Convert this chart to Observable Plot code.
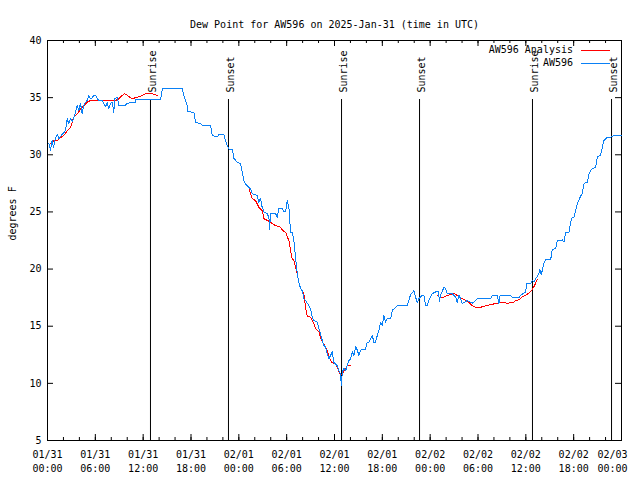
<!DOCTYPE html>
<html><head><meta charset="utf-8">
<script src="https://cdn.jsdelivr.net/npm/d3@7"></script>
<script src="https://cdn.jsdelivr.net/npm/@observablehq/plot@0.6"></script>
<style>body{margin:0;background:#fff} svg{display:block}</style>
</head><body><div id="chart"></div>
<script>
const titleText = "Dew Point for AW596 on 2025-Jan-31 (time in UTC)";
const yLabelText = "degrees F";
const startTime = "2025-01-31T00:00Z";
const endTime = "2025-02-03T00:00Z";
const yTicks = [5, 10, 15, 20, 25, 30, 35, 40];
const seriesNames = ["AW596 Analysis", "AW596"];
const seriesColors = ["#ff0000", "#0a80f5"];
const sunTimes = ["2025-01-31T12:55Z", "2025-01-31T22:42Z", "2025-02-01T12:53Z", "2025-02-01T22:40Z", "2025-02-02T12:50Z", "2025-02-02T22:45Z"];
const sunLabels = ["Sunrise", "Sunset", "Sunrise", "Sunset", "Sunrise", "Sunset"];

// [hours since start, dew point F]
const aw596 = [
[0.16,31.0],[0.38,30.4],[0.59,31.25],[0.75,30.6],[0.94,31.3],[1.22,31.8],[1.44,31.4],[1.84,31.8],[2.26,32.1],[2.47,33.15],
[2.67,32.7],[2.89,33.2],[3.14,32.9],[3.51,33.7],[3.73,34.3],[3.93,33.9],[4.14,34.5],[4.35,33.6],[4.55,34.3],[4.77,34.6],
[4.98,34.75],[5.18,35.2],[5.39,34.9],[5.61,35.0],[5.81,35.2],[6.02,35.2],[6.24,34.9],[6.44,34.75],[6.86,34.75],[7.06,34.5],
[7.28,34.2],[7.49,34.6],[7.69,34.0],[7.9,34.5],[8.12,34.6],[8.32,33.7],[8.41,34.9],[8.75,35.0],[8.95,34.3],[9.79,34.3],
[9.91,34.5],[11.04,34.6],[11.1,34.85],[14.18,34.85],[14.43,35.8],[16.9,35.8],[17.1,35.2],[17.32,34.75],[17.53,34.3],[17.6,33.8],
[18.36,33.7],[18.57,32.85],[19.2,32.7],[19.41,32.6],[20.45,32.6],[20.67,31.7],[21.29,31.55],[21.49,31.75],[22.12,31.75],[22.33,31.25],
[22.55,30.8],[22.75,30.5],[23.17,30.5],[23.38,29.7],[23.8,29.35],[24.22,29.2],[24.43,28.5],[24.63,27.75],[24.84,27.45],[25.05,27.3],
[25.47,27.0],[25.68,26.6],[26.31,26.45],[26.51,25.85],[26.73,26.2],[26.86,25.55],[26.95,25.4],[27.16,25.0],[27.59,24.85],[27.79,24.4],
[27.84,23.5],[28.0,24.85],[28.6,24.85],[28.83,24.55],[29.02,25.3],[29.45,25.3],[29.65,25.0],[29.86,25.0],[30.07,26.0],[30.28,25.4],
[30.49,23.2],[30.7,23.2],[30.9,22.5],[31.12,21.0],[31.33,19.6],[31.53,18.85],[31.74,18.3],[31.96,18.1],[32.16,17.4],[32.37,17.25],
[32.79,16.8],[33.0,16.5],[33.21,15.8],[33.41,15.5],[33.84,15.35],[34.04,14.8],[34.25,14.3],[34.47,13.75],[34.67,13.3],[34.88,13.2],
[35.09,12.6],[35.29,12.15],[35.51,12.45],[35.72,12.75],[35.92,11.85],[36.14,11.7],[36.35,11.55],[36.55,11.1],[36.76,10.8],[36.85,9.8],
[36.98,11.0],[37.18,11.3],[37.39,11.1],[37.6,11.55],[37.8,12.0],[38.02,12.15],[38.23,12.75],[38.43,12.45],[38.65,13.2],[38.86,12.9],
[39.06,12.45],[39.27,12.9],[39.49,13.0],[39.9,13.0],[40.11,13.6],[40.31,13.6],[40.53,13.9],[40.74,14.2],[40.94,13.6],[41.15,13.6],
[41.37,14.2],[41.57,14.6],[41.78,15.35],[41.99,15.1],[42.2,15.95],[42.41,15.35],[42.62,15.65],[43.04,15.65],[43.25,16.4],[43.45,16.5],
[43.88,16.8],[45.13,16.8],[45.33,17.25],[45.55,17.8],[45.96,18.1],[46.17,17.55],[46.38,17.1],[46.59,17.4],[46.8,17.55],[47.01,17.7],
[47.21,17.7],[47.42,16.8],[47.64,16.8],[47.84,17.3],[48.26,17.85],[48.68,18.0],[49.1,18.0],[49.12,17.1],[49.31,17.7],[49.72,18.4],
[49.94,18.3],[50.15,17.85],[50.78,17.85],[51.19,17.55],[51.4,17.1],[51.61,17.7],[51.82,17.4],[52.03,17.0],[52.66,17.25],[53.07,17.1],
[53.28,17.0],[53.7,17.25],[53.91,17.4],[55.58,17.4],[55.8,17.7],[56.42,17.7],[56.62,17.0],[56.77,17.7],[58.09,17.7],[58.3,17.5],
[59.13,17.5],[59.35,17.7],[59.97,18.0],[60.1,18.7],[60.6,18.7],[60.81,19.0],[61.01,18.9],[61.64,19.6],[61.76,20.0],[61.92,19.5],
[62.07,19.9],[62.27,20.5],[62.49,20.8],[63.11,20.8],[63.32,21.7],[63.74,21.8],[63.95,22.5],[64.58,22.55],[64.78,22.35],[64.99,23.2],
[65.41,23.2],[65.62,24.1],[65.83,24.55],[66.06,24.55],[66.24,25.1],[66.45,25.7],[66.66,26.0],[66.87,26.4],[67.08,26.6],[67.28,27.45],
[67.49,27.6],[67.74,27.6],[67.91,28.3],[68.12,28.6],[68.33,28.8],[68.75,28.9],[68.96,29.8],[69.37,29.95],[69.59,30.65],[69.79,31.25],
[70.21,31.55],[70.63,31.55],[71.05,31.7],[72.0,31.7]
];

// [hours since start, dew point F]; null marks a gap in the analysis
const aw596Analysis = [
[0.38,30.95],[0.79,31.25],[1.22,31.25],[1.63,31.5],[2.05,31.7],[2.47,32.1],[2.89,32.4],[3.3,33.3],[3.51,33.45],[3.93,33.75],
[4.14,34.0],[4.55,34.3],[4.98,34.6],[5.39,34.75],[8.53,34.75],[8.95,34.9],[9.37,35.2],[9.7,35.35],[10.2,35.1],[10.63,34.9],
[11.04,35.0],[11.67,35.1],[12.08,35.3],[12.71,35.4],[13.14,35.35],[13.76,35.2],
[19.0,null],
[24.84,27.45],[25.05,27.3],[25.22,27.2],[25.47,26.6],[25.68,26.15],[26.09,26.0],[26.31,25.7],[26.51,25.4],[26.95,25.1],[27.16,24.4],
[27.59,24.25],[28.0,24.1],[28.22,23.95],[28.63,23.8],[29.26,23.65],[29.47,23.4],[29.88,23.2],[30.09,22.8],[30.28,22.5],[30.49,21.6],
[30.7,20.9],[30.9,20.75],[31.12,20.2],[31.33,19.6],[31.53,18.85],[31.74,18.3],[32.16,17.85],[32.37,16.65],[32.58,15.9],[33.0,15.8],
[33.21,15.5],[33.41,15.2],[33.63,14.8],[34.04,14.5],[34.25,14.05],[34.47,13.6],[34.88,13.2],[35.09,12.9],[35.29,12.45],[35.51,12.0],
[35.72,11.8],[36.14,11.7],[36.35,11.4],[36.76,10.7],[36.98,10.85],[37.39,11.3],[37.6,11.55],[38.02,11.55],
[43.0,null],
[48.93,17.7],[49.1,17.55],[49.72,17.55],[50.15,17.7],[50.98,17.85],[51.4,17.7],[51.61,17.55],[52.03,17.4],[52.45,17.25],[52.86,17.1],
[53.28,16.8],[53.7,16.65],[53.91,16.6],[54.32,16.65],[54.74,16.75],[55.58,16.9],[56.42,17.0],[56.62,17.1],[57.25,17.1],[57.67,17.0],
[58.09,17.05],[58.5,17.1],[58.72,17.25],[59.13,17.3],[59.55,17.55],[59.97,17.7],[60.38,17.9],[60.81,18.2],[61.01,18.45],[61.22,18.75],
[61.43,19.1]
];

const t0 = new Date(startTime), t1 = new Date(endTime);
const toDate = h => new Date(+t0 + h * 3600e3);
const obs = aw596.map(([h, v]) => ({t: toDate(h), v}));
const ana = aw596Analysis.map(([h, v]) => ({t: toDate(h), v}));
const sun = sunTimes.map((s, i) => ({t: new Date(s), label: sunLabels[i]}));
const xMajor = d3.utcHour.every(6).range(t0, new Date(+t1 + 1));
const xMinor = d3.utcHour.every(2).range(t0, new Date(+t1 + 1));
const fmt = d3.utcFormat("%m/%d\n%H:%M");

const W = 640, H = 480, mL = 47, mR = 19, mT = 40, mB = 40;
const FH = H - mT - mB, FW = W - mL - mR;

const legend = (index, scales, values, dims) => {
  const g = d3.create("svg:g");
  const right = dims.width - dims.marginRight;
  seriesNames.forEach((name, i) => {
    const y = dims.marginTop + 10 + i * 13;
    g.append("text").attr("x", right - 48).attr("y", y).attr("dy", "0.32em")
      .attr("text-anchor", "end").attr("fill", "black").text(name);
    g.append("line").attr("x1", right - 40).attr("x2", right - 11)
      .attr("y1", y + 0.5).attr("y2", y + 0.5).attr("stroke", seriesColors[i])
      .attr("shape-rendering", "crispEdges");
  });
  return g.node();
};

const chart = Plot.plot({
  width: W, height: H,
  marginLeft: mL, marginRight: mR, marginTop: mT, marginBottom: mB,
  style: {fontFamily: "DejaVu Sans Mono", fontSize: "10px", background: "#fff", color: "black"},
  x: {type: "utc", domain: [t0, t1]},
  y: {domain: [5, 40]},
  marks: [
    // inward ticks (gnuplot style, mirrored)
    Plot.ruleX(xMinor, {x: d => d, insetTop: FH - 3, stroke: "black"}),
    Plot.ruleX(xMinor, {x: d => d, insetBottom: FH - 3, stroke: "black"}),
    Plot.ruleX(xMajor, {x: d => d, insetTop: FH - 6, stroke: "black"}),
    Plot.ruleX(xMajor, {x: d => d, insetBottom: FH - 6, stroke: "black"}),
    Plot.ruleY(yTicks, {y: d => d, insetRight: FW - 6, stroke: "black"}),
    Plot.ruleY(yTicks, {y: d => d, insetLeft: FW - 6, stroke: "black"}),
    Plot.axisX({ticks: xMajor.slice(0, -1), tickSize: 0, tickPadding: 8, tickFormat: fmt, label: null, lineHeight: 1.4, fill: "black"}),
    Plot.axisX({ticks: xMajor.slice(-1), tickSize: 0, tickPadding: 8, tickFormat: fmt, label: null, lineHeight: 1.4, fill: "black", dx: -9}),
    Plot.axisY({ticks: yTicks, tickSize: 0, tickPadding: 6, label: null, fill: "black"}),
    Plot.frame({stroke: "black"}),
    // sunrise / sunset
    Plot.ruleX(sun, {x: "t", insetTop: 59, stroke: "black"}),
    Plot.text(sun, {x: "t", text: "label", frameAnchor: "top", dy: 52, dx: -2, rotate: -90, textAnchor: "start", fill: "black"}),
    // series
    Plot.line(ana, {x: "t", y: "v", stroke: seriesColors[0], strokeWidth: 1, shapeRendering: "crispEdges"}),
    Plot.line(obs, {x: "t", y: "v", stroke: seriesColors[1], strokeWidth: 1, shapeRendering: "crispEdges"}),
    // title and y label
    Plot.text([titleText], {frameAnchor: "top", dy: -20, fill: "black"}),
    Plot.text([yLabelText], {frameAnchor: "left", dx: -35, rotate: -90, fill: "black"}),
    legend
  ]
});
document.getElementById("chart").append(chart);
</script>
</body></html>
